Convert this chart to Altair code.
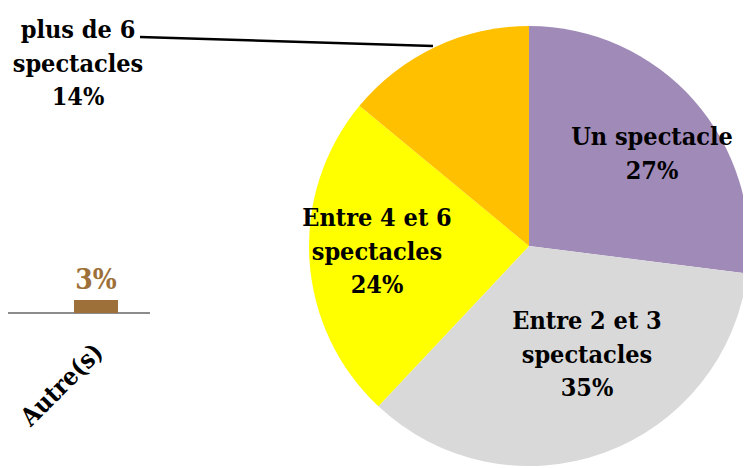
import altair as alt
import pandas as pd

# Pie data
categories = ["Un spectacle", "Entre 2 et 3 spectacles", "Entre 4 et 6 spectacles", "plus de 6 spectacles"]
values = [27, 35, 24, 14]
colors = ["#A08AB8", "#D9D9D9", "#FFFF00", "#FFC000"]
label_texts = ["Un spectacle\n27%", "Entre 2 et 3\nspectacles\n35%", "Entre 4 et 6\nspectacles\n24%", "plus de 6\nspectacles\n14%"]

# Partial bar chart data (left side)
bar_categories = ["Autre(s)"]
bar_values = [3]
bar_labels = ["3%"]

pie_df = pd.DataFrame({"cat": categories, "val": values, "order": list(range(len(categories))), "label": label_texts})
bar_df = pd.DataFrame({"cat": bar_categories, "val": bar_values, "label": bar_labels})

CX, CY, R = 521, 238, 220
FONT = "DejaVu Serif Condensed"

pie = alt.Chart(pie_df).mark_arc(outerRadius=R, stroke=None).encode(
    theta=alt.Theta("val:Q", stack=True),
    color=alt.Color("cat:N", scale=alt.Scale(domain=categories, range=colors), legend=None),
    order=alt.Order("order:Q"),
    x=alt.value(CX), y=alt.value(CY),
)

# label positions (layout) - y is the first line's centre
label_pos = [(644, 129), (579, 313), (369, 210), (70, 22)]
labels = []
for i, (lx, ly) in enumerate(label_pos):
    labels.append(
        alt.Chart(pie_df.iloc[[i]]).mark_text(
            font=FONT, fontSize=25, fontWeight="bold", color="black",
            lineBreak="\n", lineHeight=33.5, align="center", baseline="middle",
        ).encode(text="label:N", x=alt.value(lx), y=alt.value(ly))
    )

leader = alt.Chart(pie_df.iloc[[3]]).mark_rule(color="black", strokeWidth=2.5).encode(
    x=alt.value(132), x2=alt.value(425), y=alt.value(29), y2=alt.value(38)
)

xs = alt.X("cat:N", scale=alt.Scale(domain=bar_categories, range=[66, 110], paddingInner=0, paddingOuter=0), axis=None)
ys = alt.Y("val:Q", scale=alt.Scale(domain=[0, 70], range=[305, 0]), axis=None)

bars = alt.Chart(bar_df).mark_bar(color="#9C7038", cornerRadius=0).encode(x=xs, y=ys)
bar_text = alt.Chart(bar_df).mark_text(
    font=FONT, fontSize=28, fontWeight="bold", color="#9C7038", baseline="bottom", dy=-5
).encode(x=xs, y=ys, text="label:N")
axis_line = alt.Chart(bar_df).mark_rule(color="#8C8C8C", strokeWidth=2).encode(
    x=alt.value(0), x2=alt.value(142), y=alt.value(305)
)
cat_text = alt.Chart(bar_df).mark_text(
    font=FONT, fontSize=25, fontWeight="bold", color="black", angle=315, align="right", baseline="middle", dx=4
).encode(x=xs, y=alt.value(343), text="cat:N")

chart = alt.layer(pie, *labels, leader, axis_line, bars, bar_text, cat_text).properties(
    width=735, height=458, padding=0, autosize=alt.AutoSizeParams(type="none")
).configure_view(stroke=None).resolve_scale(x="shared", y="shared")

chart.save("out.html", embed_options={"renderer": "svg", "actions": False})
